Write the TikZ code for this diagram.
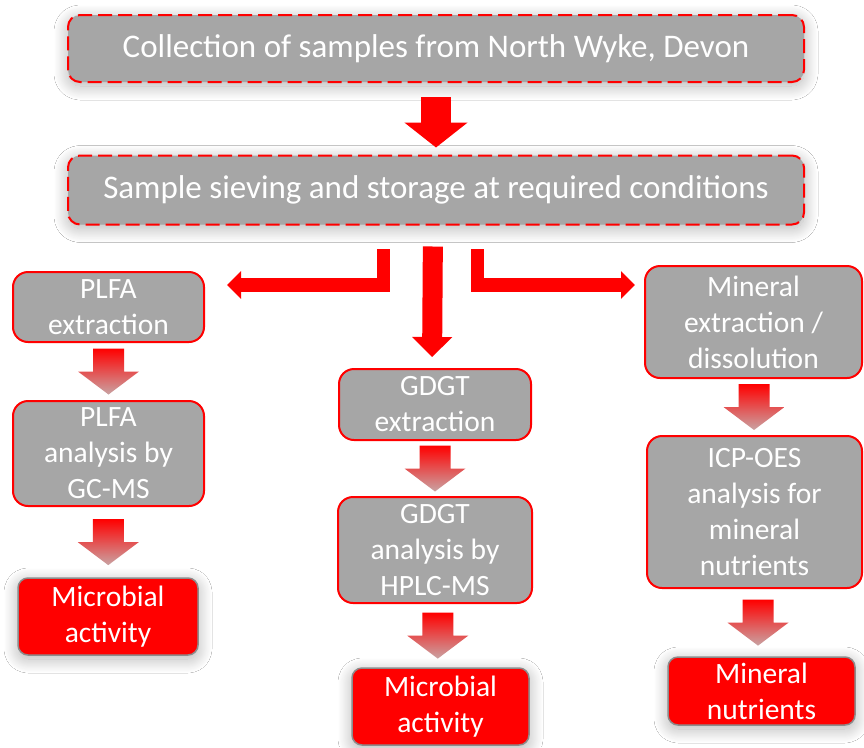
\documentclass[tikz,border=0pt]{standalone}
\usepackage{fontspec}
\setmainfont{Carlito}
\usetikzlibrary{arrows.meta, calc, shadows.blur}
\definecolor{boxGray}{HTML}{A6A6A6}
\definecolor{edgeGray}{HTML}{8C8C8C}
\definecolor{tipPink}{HTML}{C9A3A3}
\newcommand{\stepArrow}[2]{%
    \shade[top color=red, bottom color=tipPink]
        let \p1=($(#1.south)!0.5!(#2.north)$) in
        (\x1-15.5pt,\y1+23pt) -- (\x1+15.5pt,\y1+23pt) -- (\x1+15.5pt,\y1) -- (\x1+30.5pt,\y1)
        -- (\x1,\y1-23pt) -- (\x1-30.5pt,\y1) -- (\x1-15.5pt,\y1) -- cycle;}

\begin{document}
\begin{tikzpicture}[
        x=1pt, y=-1pt,
        glow/.style={blur shadow={shadow xshift=0pt, shadow yshift=-4pt,
            shadow blur radius=14pt, shadow blur steps=20, shadow opacity=30}},
        mainbox/.style={draw=red, dash pattern=on 14pt off 6pt, line width=2pt, fill=boxGray,
            rounded corners=12pt, text=white, minimum width=736pt, glow,
            font=\fontsize{33}{39}\selectfont},
        stepbox/.style={draw=red, line width=2pt, fill=boxGray, rounded corners=15pt,
            text=white, align=center, font=\fontsize{29.5}{36}\selectfont},
        resbox/.style={draw=edgeGray, line width=1.5pt, fill=red, rounded corners=10pt,
            text=white, align=center, glow, font=\fontsize{29.5}{36}\selectfont},
        bigarr/.style={red, line width=30pt, -{Triangle[length=25pt, width=62pt]}},
        midarr/.style={red, line width=20pt, -{Triangle[length=20pt, width=39pt]}},
        sidearr/.style={red, line width=13.5pt, line join=miter, -{Triangle[length=14pt, width=27pt]}}
    ]
        \useasboundingbox[fill=white] (0,0) rectangle (864,747);

        \node[mainbox, minimum height=67pt] (collect) at (436,48.5) {Collection of samples from North Wyke, Devon};
        \node[mainbox, minimum height=69pt] (sieve) at (436,190) {Sample sieving and storage at required conditions};

        \node[stepbox, minimum width=191pt, minimum height=70pt] (plfaext) at (108.5,307) {PLFA\\extraction};
        \node[stepbox, minimum width=191pt, minimum height=105pt] (plfaana) at (108.5,453.5) {PLFA\\analysis by\\GC-MS};
        \node[resbox, minimum width=180pt, minimum height=77pt] (plfares) at (108,616.5) {Microbial\\activity};

        \node[stepbox, minimum width=192pt, minimum height=71pt] (gdgtext) at (435,404.5) {GDGT\\extraction};
        \node[stepbox, minimum width=194pt, minimum height=106pt] (gdgtana) at (435,550) {GDGT\\analysis by\\HPLC-MS};
        \node[resbox, minimum width=177pt, minimum height=77pt] (gdgtres) at (440.5,706.5) {Microbial\\activity};

        \node[stepbox, minimum width=217pt, minimum height=112pt] (minext) at (753.5,322) {Mineral\\extraction /\\dissolution};
        \node[stepbox, minimum width=215pt, minimum height=152pt] (icpoes) at (754.5,512) {ICP-OES\\analysis for\\mineral\\nutrients};
        \node[resbox, minimum width=187pt, minimum height=68pt] (minres) at (761.5,691) {Mineral\\nutrients};

        \coordinate (splitL) at (383.5,249);
        \coordinate (tipL) at (227,285);
        \coordinate (splitR) at (477.5,249);
        \coordinate (tipR) at (635,285);

        \draw[bigarr, shorten <=14pt, shorten >=7pt] (collect.south) -- (sieve.north);
        \draw[midarr, shorten <=21pt, shorten >=11pt] ([xshift=-3pt]sieve.south) -- ([xshift=-3pt]gdgtext.north);
        \draw[sidearr] (splitL) |- (tipL);
        \draw[sidearr] (splitR) |- (tipR);

        \stepArrow{plfaext}{plfaana}
        \stepArrow{plfaana}{plfares}
        \stepArrow{gdgtext}{gdgtana}
        \stepArrow{gdgtana}{gdgtres}
        \stepArrow{minext}{icpoes}
        \stepArrow{icpoes}{minres}
    \end{tikzpicture}
\end{document}
